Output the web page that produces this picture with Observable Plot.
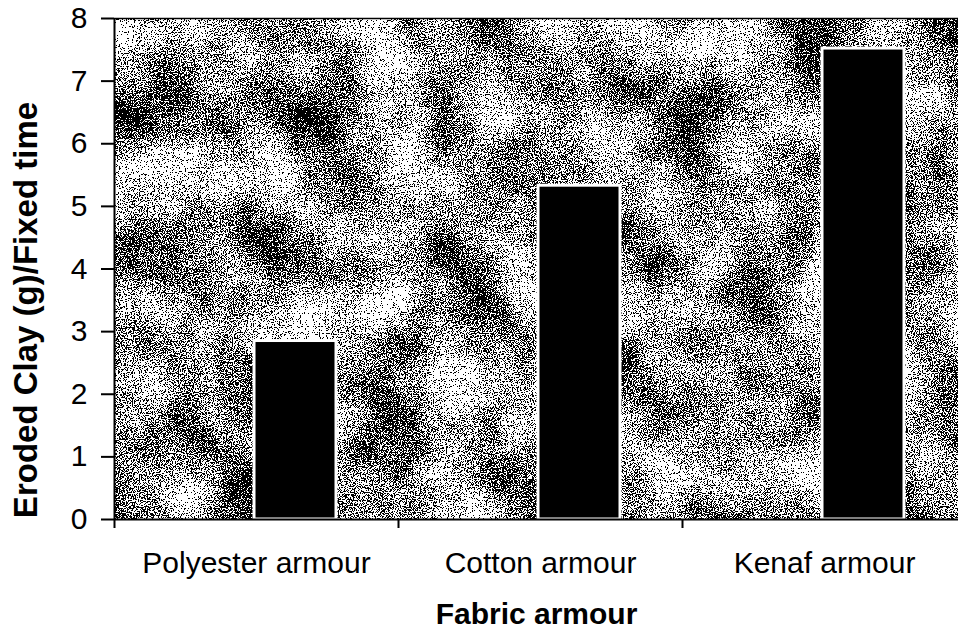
<!DOCTYPE html>
<html>
<head>
<meta charset="utf-8">
<script src="https://cdn.jsdelivr.net/npm/d3@7"></script>
<script src="https://cdn.jsdelivr.net/npm/@observablehq/plot@0.6"></script>
<style>
  html, body { margin: 0; padding: 0; background: white; }
  #chart { width: 958px; height: 629px; overflow: hidden; }
</style>
</head>
<body>
<div id="chart"></div>
<script>
// ---- data ----
const categories = ["Polyester armour", "Cotton armour", "Kenaf armour"];
const erodedClay = [2.85, 5.33, 7.52];
const yTicks = [0, 1, 2, 3, 4, 5, 6, 7, 8];
const xTitle = "Fabric armour";
const yTitle = "Eroded Clay (g)/Fixed time";

const data = categories.map((c, i) => ({category: c, value: erodedClay[i]}));

const font = "Liberation Sans, Arial, Helvetica, sans-serif";

const chart = Plot.plot({
  width: 958,
  height: 629,
  marginLeft: 114,
  marginRight: 0,
  marginTop: 18,
  marginBottom: 110,
  style: {fontFamily: font, color: "black", background: "white", overflow: "hidden"},
  x: {domain: categories, range: [114, 966], padding: 0},
  y: {domain: [0, 8], range: [519, 18]},
  marks: [
    Plot.frame({fill: "#9c9c9c", stroke: "none"}),
    Plot.barY(data, {x: "category", y: "value", fill: "black", stroke: "white", strokeWidth: 3, insetLeft: 140, insetRight: 62}),
    Plot.ruleY([0], {stroke: "black", strokeWidth: 2}),
    Plot.ruleY([8], {stroke: "black", strokeWidth: 1.5}),
    Plot.gridX({ticks: [categories[0]], dx: -142, stroke: "black", strokeOpacity: 1, strokeWidth: 2}),
    Plot.axisY({ticks: yTicks, tickSize: 13, tickPadding: 14, fontSize: 30, label: null, strokeWidth: 2}),
    Plot.axisX({tickSize: 9, dx: -142, text: null, label: null, strokeWidth: 2}),
    Plot.axisX({tickSize: 0, tickPadding: 32, fontSize: 30, label: null}),
    Plot.text([xTitle], {frameAnchor: "bottom", textAnchor: "middle", dy: 95, fontSize: 30, fontWeight: "bold", lineAnchor: "middle", fill: "black"}),
    Plot.text([yTitle], {frameAnchor: "left", textAnchor: "middle", rotate: -90, dx: -88, dy: 41, fontSize: 33, fontWeight: "bold", lineAnchor: "middle", fill: "black"})
  ]
});

// decorative scanned-paper texture for the plotting area
const ns = "http://www.w3.org/2000/svg";
const defs = document.createElementNS(ns, "defs");
defs.innerHTML = `
<filter id="tex" x="0" y="0" width="1" height="1" color-interpolation-filters="sRGB">
  <feTurbulence type="fractalNoise" baseFrequency="0.014" numOctaves="3" seed="5" result="lo"/>
  <feColorMatrix in="lo" type="matrix" values="1 0 0 0 0  1 0 0 0 0  1 0 0 0 0  0 0 0 0 1" result="loG"/>
  <feTurbulence type="fractalNoise" baseFrequency="0.85" numOctaves="2" seed="2" result="hi"/>
  <feColorMatrix in="hi" type="matrix" values="1 0 0 0 0  1 0 0 0 0  1 0 0 0 0  0 0 0 0 1" result="hiG"/>
  <feComposite in="loG" in2="hiG" operator="arithmetic" k1="0" k2="0.7" k3="1.6" k4="-0.61" result="sum"/>
  <feComponentTransfer in="sum">
    <feFuncR type="discrete" tableValues="0 1"/>
    <feFuncG type="discrete" tableValues="0 1"/>
    <feFuncB type="discrete" tableValues="0 1"/>
  </feComponentTransfer>
</filter>`;
chart.insertBefore(defs, chart.firstChild);
const fr = chart.querySelector('[aria-label="frame"]');
if (fr) {
  const r = fr.tagName.toLowerCase() === "rect" ? fr : fr.querySelector("rect");
  if (r) r.setAttribute("filter", "url(#tex)");
}

document.getElementById("chart").appendChild(chart);
</script>
</body>
</html>
